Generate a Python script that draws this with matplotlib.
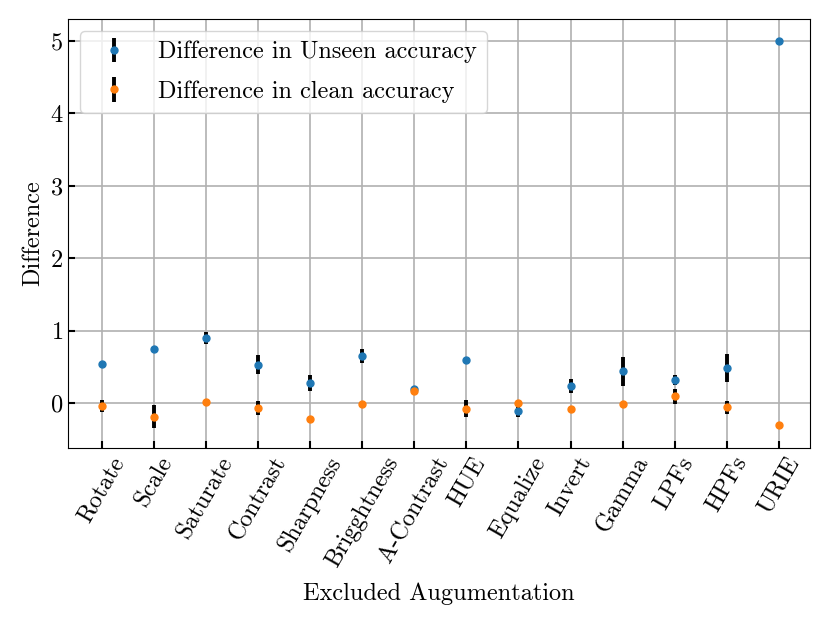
import matplotlib
matplotlib.use('Agg')
import matplotlib.pyplot as plt
import numpy as np

plt.rcParams['font.family'] = 'serif'
plt.rcParams['font.serif'] = ['cmr10']
plt.rcParams['mathtext.fontset'] = 'cm'
plt.rcParams['axes.formatter.use_mathtext'] = True
plt.rcParams['axes.unicode_minus'] = False

categories = ['Rotate', 'Scale', 'Saturate', 'Contrast', 'Sharpness', 'Brigghtness',
              'A-Contrast', 'HUE', 'Equalize', 'Invert', 'Gamma', 'LPFs', 'HPFs', 'URIE']

unseen_diff = [0.54, 0.75, 0.90, 0.53, 0.27, 0.65, 0.20, 0.59, -0.11, 0.235, 0.44, 0.32, 0.48, 5.0]
unseen_err = [0.0, 0.0, 0.085, 0.13, 0.11, 0.10, 0.02, 0.0, 0.08, 0.09, 0.20, 0.065, 0.19, 0.0]

clean_diff = [-0.04, -0.19, 0.01, -0.07, -0.22, -0.02, 0.17, -0.08, 0.0, -0.08, -0.02, 0.09, -0.06, -0.30]
clean_err = [0.08, 0.16, 0.0, 0.10, 0.0, 0.0, 0.0, 0.115, 0.0, 0.0, 0.0, 0.10, 0.085, 0.0]

x = np.arange(len(categories))

fig, ax = plt.subplots(figsize=(8.3, 6.23), dpi=100)
fig.subplots_adjust(left=0.082, right=0.976, top=0.9695, bottom=0.281)

ax.errorbar(x, unseen_diff, yerr=unseen_err, fmt='o', ms=5, color='#1f77b4',
            ecolor='black', elinewidth=2.8, capsize=0, label='Difference in Unseen accuracy', zorder=3)
ax.errorbar(x, clean_diff, yerr=clean_err, fmt='o', ms=5, color='#ff7f0e',
            ecolor='black', elinewidth=2.8, capsize=0, label='Difference in clean accuracy', zorder=3)

ax.set_xticks(x)
ax.set_xticklabels(categories, rotation=60, fontsize=17.5)
ax.tick_params(axis='both', direction='in', labelsize=17.5, length=5, width=1.5)
ax.grid(True, color='#b0b0b0', linewidth=1.2)
ax.set_axisbelow(True)
ax.set_xlim(-0.65, 13.6)
ax.set_ylim(-0.62, 5.3)
ax.set_ylabel('Difference', fontsize=17.5)
ax.set_xlabel('Excluded Augumentation', fontsize=17.5, labelpad=8)
ax.legend(loc='upper left', fontsize=17.5, borderpad=0.4, labelspacing=0.7)

fig.savefig('out.png', dpi=100)
